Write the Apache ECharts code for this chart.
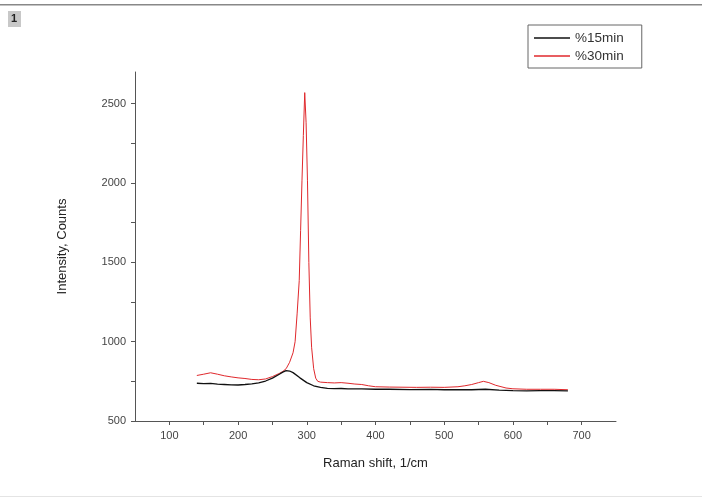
<!DOCTYPE html>
<html>
<head>
<meta charset="utf-8">
<script src="https://cdn.jsdelivr.net/npm/echarts@6/dist/echarts.min.js"></script>
<style>html,body{margin:0;padding:0;background:#fff}#c{width:702px;height:502px}</style>
</head>
<body>
<div id="c"></div>
<script>
// Raman shift (1/cm) and intensity (counts)
var shift15 = [140,150,160,170,180,190,200,210,220,230,240,250,260,265,270,275,280,290,300,310,320,330,340,350,360,380,400,420,450,480,500,520,540,560,580,600,620,640,660,680];
var int15   = [738,735,737,732,730,728,727,730,734,740,752,770,795,808,818,815,805,772,742,722,712,706,704,705,703,702,700,700,698,699,697,698,697,700,695,692,690,692,692,690];

var shift30 = [140,150,160,170,180,190,200,210,220,230,240,250,260,265,270,275,280,283,286,289,291,293,295,297,299,301,303,305,307,310,313,316,320,330,340,350,360,370,380,390,400,420,440,460,480,500,520,530,540,550,557,565,575,590,600,620,640,660,680];
var int30   = [787,795,804,795,785,778,772,768,762,760,765,780,800,812,830,870,930,1000,1180,1385,1700,2014,2300,2570,2380,2014,1500,1150,965,830,770,750,745,742,740,742,738,733,730,722,716,714,713,712,713,712,716,722,730,742,750,742,725,708,703,700,700,700,697];

var xLabels = [100,200,300,400,500,600,700];
var xTicks  = [100,150,200,250,300,350,400,450,500,550,600,650,700];
var yLabels = [500,1000,1500,2000,2500];
var yTicks  = [500,750,1000,1250,1500,1750,2000,2250,2500];

function pairs(xs, ys){ return xs.map(function(x,i){ return [x, ys[i]]; }); }
function plain(v){ return String(v); }

var chart = echarts.init(document.getElementById('c'));
var font = 'Liberation Sans, Arial, sans-serif';
chart.setOption({
  animation: false,
  backgroundColor: '#fff',
  grid: {left: 135, right: 86, top: 72, bottom: 81},
  xAxis: {
    type: 'value', min: 50, max: 750,
    name: 'Raman shift, 1/cm', nameLocation: 'middle', nameGap: 36,
    nameTextStyle: {fontFamily: font, fontSize: 13, color: '#222'},
    axisLine: {lineStyle: {color: '#555', width: 1}},
    axisTick: {customValues: xTicks, length: 4, inside: false, lineStyle: {color: '#555'}},
    axisLabel: {customValues: xLabels, formatter: plain, fontFamily: font, fontSize: 11, color: '#444', margin: 9},
    splitLine: {show: false}
  },
  yAxis: {
    type: 'value', min: 500, max: 2700,
    name: 'Intensity, Counts', nameLocation: 'middle', nameGap: 66,
    nameTextStyle: {fontFamily: font, fontSize: 13, color: '#222'},
    axisLine: {show: true, lineStyle: {color: '#555', width: 1}},
    axisTick: {show: true, customValues: yTicks, length: 4, lineStyle: {color: '#555'}},
    axisLabel: {customValues: yLabels, formatter: plain, fontFamily: font, fontSize: 11, color: '#444', margin: 9},
    splitLine: {show: false}
  },
  legend: {
    left: 528, top: 25, orient: 'vertical',
    borderColor: '#666', borderWidth: 1, padding: [6, 18, 5, 6],
    itemGap: 4, itemWidth: 36, itemHeight: 1.5, icon: 'rect',
    textStyle: {fontFamily: font, fontSize: 13.5, color: '#333', lineHeight: 14},
    data: ['%15min', '%30min']
  },
  series: [
    {name: '%15min', type: 'line', data: pairs(shift15, int15), symbol: 'none',
     lineStyle: {color: '#111', width: 1.3}, itemStyle: {color: '#111'}, z: 3},
    {name: '%30min', type: 'line', data: pairs(shift30, int30), symbol: 'none',
     lineStyle: {color: '#e0282c', width: 1}, itemStyle: {color: '#e0282c'}, z: 2}
  ],
  graphic: [
    {type: 'rect', shape: {x: 0, y: 4, width: 702, height: 1.5}, style: {fill: '#888'}},
    {type: 'rect', shape: {x: 8, y: 11, width: 13, height: 16}, style: {fill: '#c8c8c8'}},
    {type: 'text', x: 11, y: 13, style: {text: '1', font: 'bold 11px ' + font, fill: '#222'}},
    {type: 'rect', shape: {x: 0, y: 496, width: 702, height: 1}, style: {fill: '#e4e4e4'}}
  ]
});
</script>
</body>
</html>
